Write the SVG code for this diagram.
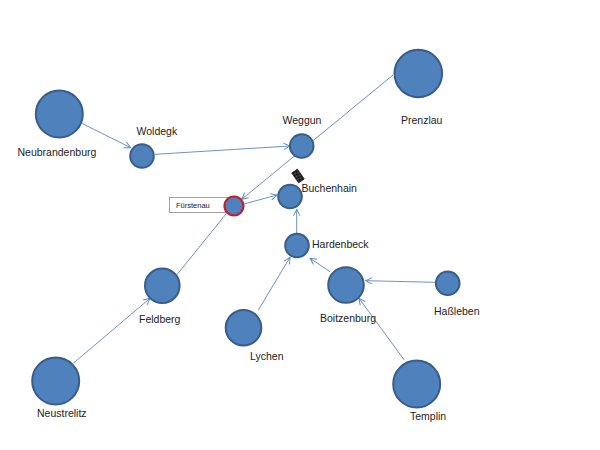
<svg xmlns="http://www.w3.org/2000/svg" width="600" height="450" viewBox="0 0 600 450">
<style>
.n{fill:#4f81bd;stroke:#385d8a;stroke-width:2}
.r{fill:#4f81bd;stroke:#c0202a;stroke-width:2.2}
.e{fill:none;stroke:#5b86c0;stroke-width:0.9}
.t{font-family:"Liberation Sans",Arial,sans-serif;font-size:10.5px;fill:#222}
.s{font-family:"Liberation Sans",Arial,sans-serif;font-size:7.5px;fill:#222}
</style>
<defs>
<marker id="a" viewBox="0 0 10 10" refX="9" refY="5" markerWidth="8" markerHeight="8" markerUnits="userSpaceOnUse" orient="auto">
<path d="M1,1 L9,5 L1,9" fill="none" stroke="#5b86c0" stroke-width="1.2"/>
</marker>
<pattern id="chk" width="2" height="2" patternUnits="userSpaceOnUse">
<rect width="2" height="2" fill="#555"/>
<rect width="1" height="1" fill="#000"/>
<rect x="1" y="1" width="1" height="1" fill="#000"/>
</pattern>
</defs>
<rect width="600" height="450" fill="#fff"/>
<g id="connectors">
<line class="e" x1="81.7" y1="123.3" x2="130.7" y2="147.7" marker-end="url(#a)"/>
<line class="e" x1="155" y1="154.3" x2="290" y2="146" marker-end="url(#a)"/>
<line class="e" x1="393" y1="75" x2="241.7" y2="199.3" marker-end="url(#a)"/>
<line class="e" x1="244" y1="204" x2="277" y2="195" marker-end="url(#a)"/>
<line class="e" x1="176.7" y1="275" x2="226" y2="214"/>
<line class="e" x1="73.3" y1="363.3" x2="150" y2="298.3" marker-end="url(#a)"/>
<line class="e" x1="296.7" y1="234" x2="296.7" y2="209.3" marker-end="url(#a)"/>
<line class="e" x1="258.3" y1="310" x2="290" y2="257.3" marker-end="url(#a)"/>
<line class="e" x1="330" y1="271.7" x2="310" y2="258.3" marker-end="url(#a)"/>
<line class="e" x1="435" y1="282.3" x2="365.7" y2="280.7" marker-end="url(#a)"/>
<line class="e" x1="404.3" y1="360" x2="359" y2="298.3" marker-end="url(#a)"/>
</g>
<g id="Neubrandenburg"><circle class="n" cx="59.3" cy="114" r="23.5"/><text class="t" x="17.5" y="156">Neubrandenburg</text></g>
<g id="Woldegk"><circle class="n" cx="142" cy="156" r="11.8"/><text class="t" x="136.5" y="135">Woldegk</text></g>
<g id="Weggun"><circle class="n" cx="301.7" cy="146" r="11.8"/><text class="t" x="282.5" y="123.5">Weggun</text></g>
<g id="Prenzlau"><circle class="n" cx="418.3" cy="73.5" r="23.8"/><text class="t" x="401" y="124">Prenzlau</text></g>
<g id="Buchenhain"><circle class="n" cx="290" cy="196.5" r="11.8"/><text class="t" x="301.5" y="192">Buchenhain</text></g>
<g id="Fuerstenau"><rect x="169.5" y="197.5" width="60" height="15" fill="#fff" stroke="#8a8a8a" stroke-width="0.8"/><text class="s" x="176" y="207.8">Fürstenau</text><circle class="r" cx="234" cy="206" r="9.5"/></g>
<g id="Hardenbeck"><circle class="n" cx="297" cy="245.5" r="11.8"/><text class="t" x="312" y="247.5">Hardenbeck</text></g>
<g id="Feldberg"><circle class="n" cx="162.3" cy="285.7" r="17.3"/><text class="t" x="139" y="322.7">Feldberg</text></g>
<g id="Neustrelitz"><circle class="n" cx="55.7" cy="381" r="23.5"/><text class="t" x="37" y="417.3">Neustrelitz</text></g>
<g id="Lychen"><circle class="n" cx="243.5" cy="327.7" r="17.8"/><text class="t" x="250" y="360">Lychen</text></g>
<g id="Boitzenburg"><circle class="n" cx="346" cy="285" r="17.8"/><text class="t" x="320" y="321.7">Boitzenburg</text></g>
<g id="Hassleben"><circle class="n" cx="447.7" cy="283.3" r="11.8"/><text class="t" x="434" y="315">Haßleben</text></g>
<g id="Templin"><circle class="n" cx="416.7" cy="384" r="23.5"/><text class="t" x="410" y="420">Templin</text></g>
<g id="handle"><rect x="294.5" y="170" width="7" height="12" fill="url(#chk)" stroke="#111" stroke-width="0.6" transform="rotate(-35 298 176)"/></g>
</svg>
